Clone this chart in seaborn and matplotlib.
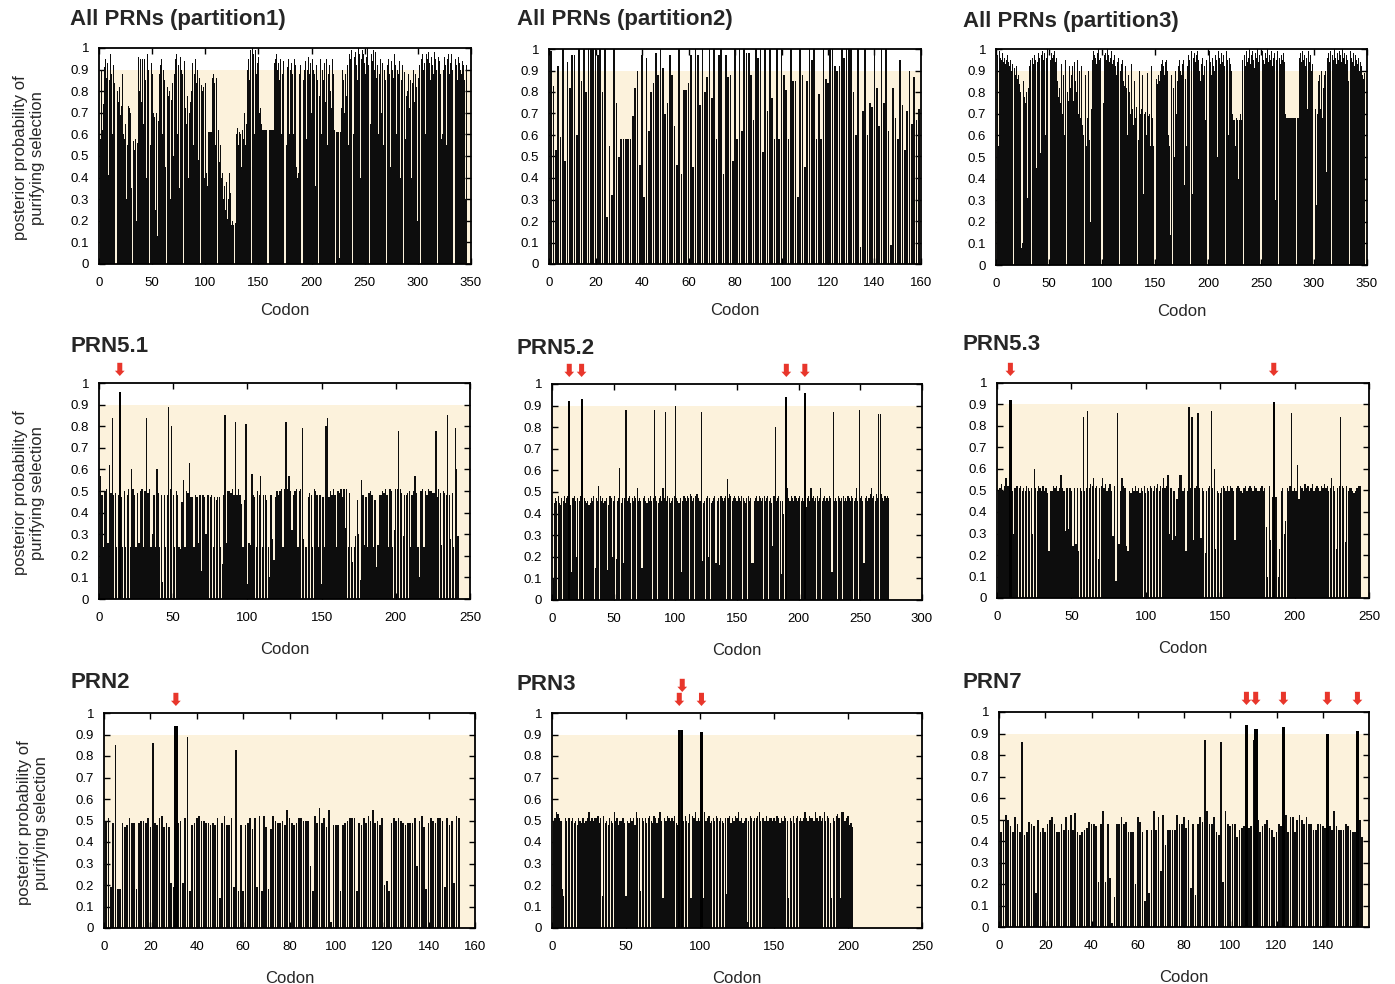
import numpy as np
import pandas as pd
import matplotlib
matplotlib.use("Agg")
import matplotlib.pyplot as plt
import seaborn as sns
from matplotlib.ticker import FuncFormatter, MultipleLocator

sns.set_theme(style="ticks")
plt.rcParams["font.family"] = ["Liberation Sans", "DejaVu Sans"]

# ---- posterior probabilities (percent) per codon, codons numbered from 1 ----
part1 = [58, 90, 62, 74, 91, 95, 86, 93, 41, 85,
         97, 88, 60, 92, 84, 35, 80, 75, 82, 69,
         73, 88, 60, 58, 65, 30, 55, 73, 72, 70,
         35, 57, 53, 58, 20, 56, 96, 80, 95, 75,
         95, 65, 95, 85, 40, 97, 90, 55, 93, 88,
         70, 68, 25, 70, 13, 66, 88, 92, 95, 60,
         90, 85, 45, 82, 78, 80, 30, 76, 84, 50,
         88, 95, 97, 60, 92, 35, 96, 90, 88, 94,
         72, 65, 78, 40, 70, 75, 80, 93, 55, 88,
         95, 84, 90, 48, 86, 83, 80, 82, 40, 84,
         42, 36, 61, 61, 61, 61, 86, 88, 84, 55,
         86, 62, 47, 55, 40, 42, 30, 36, 25, 38,
         21, 30, 42, 33, 18, 20, 18, 19, 60, 63,
         55, 61, 60, 45, 62, 58, 70, 55, 65, 90,
         95, 85, 99, 100, 97, 60, 99, 88, 93, 96,
         70, 72, 65, 62, 62, 62, 62, 62, 62, 62,
         62, 62, 62, 62, 93, 95, 97, 90, 93, 85,
         95, 60, 88, 94, 92, 55, 91, 95, 60, 90,
         93, 88, 60, 95, 92, 45, 40, 42, 88, 92,
         95, 85, 90, 94, 58, 90, 96, 88, 93, 70,
         95, 90, 88, 36, 92, 85, 78, 95, 60, 90,
         85, 93, 75, 95, 55, 88, 92, 80, 72, 95,
         88, 62, 61, 61, 61, 3, 61, 72, 90, 85,
         70, 88, 78, 92, 55, 97, 95, 99, 60, 96,
         98, 92, 85, 100, 97, 40, 95, 99, 97, 93,
         88, 96, 100, 92, 65, 97, 94, 99, 90, 98,
         86, 92, 60, 88, 95, 70, 93, 55, 90, 85,
         92, 95, 88, 45, 94, 90, 86, 97, 92, 60,
         90, 88, 94, 40, 85, 92, 89, 58, 78, 80,
         88, 72, 85, 40, 84, 90, 75, 88, 82, 20,
         86, 92, 95, 97, 90, 93, 60, 97, 95, 98,
         93, 85, 96, 92, 88, 98, 95, 90, 96, 94,
         88, 58, 60, 90, 96, 92, 55, 95, 97, 88,
         93, 97, 90, 75, 95, 92, 85, 96, 93, 90,
         88, 94, 92, 85, 30, 92]

part2 = [99, 83, 53, 92, 59, 100, 48, 94, 82, 97,
         97, 60, 100, 85, 100, 80, 100, 100, 100, 100,
         97, 100, 80, 100, 22, 55, 32, 100, 75, 50,
         58, 58, 58, 58, 58, 69, 82, 90, 46, 97,
         31, 96, 62, 80, 84, 98, 88, 100, 91, 70,
         75, 97, 88, 64, 46, 100, 42, 81, 81, 84,
         97, 45, 100, 97, 74, 100, 80, 87, 100, 77,
         100, 58, 97, 100, 42, 97, 87, 88, 48, 100,
         58, 100, 62, 100, 98, 98, 88, 67, 100, 96,
         100, 52, 100, 71, 100, 77, 58, 100, 58, 100,
         88, 81, 58, 100, 85, 85, 31, 100, 88, 45,
         85, 100, 95, 100, 58, 79, 58, 100, 86, 84,
         100, 100, 92, 90, 92, 100, 96, 100, 100, 100,
         80, 60, 100, 8, 71, 100, 60, 75, 73, 100,
         82, 64, 100, 75, 100, 62, 9, 82, 68, 58,
         95, 74, 53, 71, 90, 65, 87, 67, 72]

part3 = [97, 55, 99, 96, 95, 98, 94, 96, 93, 95,
         97, 94, 92, 95, 90, 93, 91, 88, 92, 86,
         88, 84, 80, 8, 10, 85, 78, 75, 80, 31,
         82, 92, 95, 96, 93, 97, 95, 45, 94, 98,
         96, 52, 97, 99, 95, 98, 60, 96, 100, 97,
         95, 98, 96, 97, 99, 94, 96, 85, 78, 82,
         75, 93, 70, 88, 60, 95, 80, 76, 92, 82,
         88, 92, 76, 94, 85, 80, 95, 70, 90, 68,
         92, 65, 60, 88, 55, 68, 90, 58, 20, 72,
         95, 99, 97, 96, 93, 98, 100, 95, 96, 92,
         75, 97, 98, 95, 100, 97, 94, 96, 99, 93,
         95, 97, 92, 88, 94, 96, 90, 93, 95, 85,
         83, 92, 82, 60, 88, 80, 70, 93, 72, 65,
         85, 68, 73, 58, 90, 70, 72, 88, 33, 70,
         71, 60, 89, 69, 70, 55, 92, 68, 55, 85,
         86, 84, 88, 85, 90, 93, 95, 92, 88, 94,
         95, 90, 60, 55, 14, 88, 82, 50, 90, 70,
         85, 92, 95, 90, 88, 93, 95, 37, 86, 55,
         92, 97, 95, 99, 33, 96, 98, 94, 97, 99,
         95, 90, 85, 93, 96, 88, 92, 67, 95, 97,
         99, 94, 88, 96, 92, 90, 97, 95, 50, 99,
         96, 93, 98, 94, 97, 92, 99, 95, 60, 96,
         93, 90, 70, 67, 67, 55, 68, 67, 40, 67,
         70, 67, 95, 97, 92, 99, 94, 96, 100, 93,
         97, 99, 95, 91, 98, 96, 100, 94, 97, 92,
         99, 95, 93, 98, 96, 100, 94, 97, 95, 99,
         92, 96, 98, 30, 95, 99, 96, 93, 97, 95,
         98, 94, 70, 68, 68, 68, 68, 68, 68, 68,
         68, 68, 68, 68, 68, 96, 98, 94, 99, 95,
         97, 92, 96, 72, 99, 94, 97, 90, 93, 96,
         72, 28, 70, 85, 88, 72, 90, 68, 82, 88,
         90, 43, 96, 98, 94, 99, 97, 95, 100, 96,
         93, 98, 95, 99, 97, 94, 100, 96, 98, 93,
         97, 95, 85, 99, 96, 94, 98, 92, 97, 95,
         93, 96, 90, 94, 92, 88, 86, 89]

prn5_1 = [57, 48, 24, 50, 51, 26, 62, 49, 84, 48,
          49, 24, 48, 96, 47, 24, 50, 24, 48, 51,
          24, 60, 51, 48, 24, 49, 26, 50, 51, 24,
          50, 84, 49, 51, 24, 30, 48, 24, 60, 49,
          24, 48, 8, 48, 24, 48, 89, 51, 80, 48,
          24, 50, 48, 24, 23, 45, 55, 24, 50, 49,
          63, 47, 47, 24, 48, 47, 26, 48, 13, 48,
          47, 30, 48, 48, 47, 48, 24, 47, 46, 47,
          47, 24, 16, 48, 85, 26, 50, 50, 49, 51,
          48, 82, 48, 51, 48, 44, 24, 46, 81, 7,
          26, 25, 58, 48, 47, 24, 50, 48, 57, 24,
          48, 48, 46, 24, 10, 48, 28, 18, 47, 50,
          48, 50, 51, 24, 51, 82, 51, 57, 50, 32,
          48, 50, 51, 24, 50, 51, 79, 28, 24, 24,
          47, 49, 48, 24, 51, 50, 48, 24, 48, 7,
          47, 24, 80, 84, 47, 50, 48, 51, 48, 24,
          50, 49, 51, 47, 51, 33, 51, 24, 49, 24,
          17, 24, 29, 46, 30, 9, 55, 48, 25, 47,
          24, 49, 50, 48, 24, 46, 15, 25, 48, 48,
          50, 49, 51, 48, 24, 51, 50, 24, 32, 51,
          51, 78, 51, 49, 29, 48, 48, 49, 50, 24,
          48, 50, 57, 49, 24, 10, 50, 51, 24, 50,
          48, 51, 50, 50, 49, 49, 78, 47, 51, 49,
          25, 50, 49, 48, 85, 48, 28, 49, 24, 79,
          60, 29]

prn5_2 = [10, 45, 47, 46, 48, 45, 44, 47, 46, 48,
          45, 47, 48, 92, 44, 13, 47, 48, 46, 20,
          47, 46, 48, 93, 25, 47, 46, 45, 46, 44,
          45, 47, 46, 48, 15, 47, 46, 53, 48, 46,
          47, 45, 46, 47, 14, 44, 48, 47, 20, 46,
          48, 19, 46, 47, 61, 45, 47, 17, 47, 88,
          46, 47, 48, 45, 47, 46, 48, 47, 52, 46,
          47, 46, 15, 47, 48, 46, 45, 47, 46, 48,
          46, 47, 88, 48, 46, 45, 47, 48, 46, 52,
          47, 87, 46, 48, 47, 45, 46, 47, 48, 90,
          47, 46, 45, 47, 13, 46, 48, 47, 46, 48,
          47, 49, 48, 46, 47, 48, 49, 49, 47, 46,
          87, 18, 45, 46, 47, 48, 20, 47, 45, 46,
          47, 48, 17, 46, 47, 16, 48, 47, 46, 47,
          48, 56, 47, 49, 48, 46, 47, 48, 47, 46,
          48, 47, 46, 48, 47, 46, 45, 47, 48, 46,
          47, 17, 17, 46, 47, 48, 46, 48, 47, 46,
          47, 48, 46, 47, 48, 46, 47, 45, 25, 48,
          80, 46, 47, 48, 46, 12, 46, 40, 52, 94,
          52, 47, 46, 48, 47, 46, 48, 47, 46, 47,
          48, 46, 47, 46, 96, 43, 47, 48, 46, 52,
          47, 48, 46, 47, 48, 46, 47, 52, 46, 47,
          48, 46, 47, 46, 48, 47, 13, 87, 46, 47,
          46, 48, 47, 46, 47, 48, 46, 47, 46, 48,
          47, 46, 48, 47, 46, 47, 52, 46, 88, 47,
          48, 46, 17, 47, 48, 46, 47, 49, 52, 47,
          48, 46, 49, 47, 86, 86, 49, 47, 46, 48,
          47, 48, 47]

prn5_3 = [50, 51, 53, 50, 52, 56, 52, 52, 92, 50,
          30, 51, 52, 52, 51, 52, 50, 51, 50, 52,
          51, 50, 51, 30, 60, 51, 50, 52, 51, 50,
          52, 50, 51, 49, 22, 50, 50, 52, 51, 52,
          50, 51, 57, 51, 50, 31, 51, 32, 51, 50,
          24, 51, 25, 51, 22, 51, 50, 84, 50, 51,
          87, 51, 53, 52, 56, 51, 52, 18, 51, 52,
          56, 51, 53, 50, 51, 53, 50, 29, 52, 8,
          86, 25, 50, 56, 52, 51, 24, 22, 50, 49,
          51, 50, 52, 50, 51, 49, 51, 50, 52, 49,
          51, 50, 52, 51, 50, 52, 51, 53, 50, 52,
          51, 56, 51, 52, 57, 30, 51, 27, 50, 29,
          46, 51, 57, 57, 50, 51, 22, 50, 89, 51,
          84, 27, 51, 52, 86, 51, 28, 51, 50, 21,
          50, 51, 52, 87, 51, 60, 23, 50, 49, 49,
          51, 52, 51, 50, 52, 50, 52, 51, 50, 27,
          51, 52, 51, 50, 49, 51, 52, 50, 51, 52,
          51, 50, 52, 51, 50, 50, 51, 52, 50, 51,
          33, 10, 52, 27, 47, 91, 47, 47, 10, 23,
          50, 51, 30, 36, 51, 50, 52, 86, 50, 51,
          50, 62, 46, 52, 51, 50, 53, 51, 52, 50,
          51, 53, 50, 51, 52, 51, 50, 52, 51, 53,
          51, 52, 50, 51, 56, 52, 50, 23, 51, 52,
          84, 52, 51, 26, 52, 50, 51, 51, 50, 49,
          50, 51, 52, 52]

prn2 = [50, 51, 19, 49, 85, 18, 18, 49, 47, 48,
        51, 49, 49, 18, 49, 50, 50, 49, 51, 47,
        86, 49, 48, 51, 52, 47, 49, 47, 21, 19,
        94, 49, 50, 21, 51, 89, 17, 48, 49, 51,
        52, 50, 50, 49, 49, 48, 49, 48, 51, 14,
        49, 52, 48, 48, 51, 19, 83, 17, 48, 17,
        48, 49, 51, 46, 51, 19, 52, 17, 52, 47,
        18, 46, 52, 50, 49, 49, 50, 48, 55, 51,
        49, 48, 49, 51, 51, 50, 50, 50, 29, 17,
        52, 49, 56, 49, 51, 47, 55, 3, 48, 48,
        48, 17, 48, 49, 50, 51, 51, 51, 17, 49,
        48, 51, 49, 52, 50, 55, 49, 50, 48, 51,
        20, 22, 17, 49, 51, 50, 51, 50, 49, 48,
        49, 49, 49, 51, 29, 50, 52, 47, 18, 49,
        51, 50, 49, 51, 51, 50, 19, 51, 48, 50,
        21, 52, 51]

prn3 = [50, 51, 54, 53, 51, 50, 18, 15, 51, 50,
        51, 51, 50, 51, 49, 50, 48, 51, 50, 49,
        51, 49, 50, 51, 54, 50, 51, 50, 51, 51,
        52, 49, 51, 15, 52, 49, 50, 48, 51, 50,
        49, 54, 50, 51, 48, 50, 50, 51, 49, 15,
        50, 49, 51, 50, 51, 48, 54, 51, 51, 17,
        51, 50, 51, 49, 51, 52, 50, 49, 52, 51,
        49, 51, 54, 50, 14, 51, 50, 52, 51, 50,
        51, 50, 52, 49, 48, 92, 92, 92, 50, 52,
        50, 49, 53, 14, 52, 51, 54, 50, 51, 50,
        91, 14, 54, 50, 51, 52, 49, 50, 51, 50,
        52, 51, 50, 51, 50, 49, 51, 16, 51, 52,
        49, 51, 50, 52, 51, 54, 50, 51, 49, 50,
        51, 3, 50, 52, 51, 50, 51, 51, 52, 54,
        50, 51, 51, 50, 52, 50, 51, 51, 50, 51,
        50, 52, 51, 49, 51, 50, 52, 51, 50, 14,
        51, 50, 52, 49, 51, 52, 50, 51, 50, 51,
        54, 51, 50, 52, 51, 51, 50, 54, 51, 50,
        52, 50, 51, 54, 50, 52, 51, 49, 14, 51,
        50, 52, 53, 51, 14, 54, 54, 50, 51, 52,
        48, 49, 47]

prn7 = [44, 50, 52, 50, 47, 44, 51, 48, 44, 86,
        43, 44, 49, 48, 47, 16, 50, 44, 46, 44,
        48, 50, 51, 48, 44, 44, 48, 45, 51, 45,
        52, 45, 53, 44, 43, 44, 45, 46, 49, 48,
        48, 47, 21, 48, 54, 21, 48, 23, 2, 14,
        48, 48, 51, 48, 49, 44, 44, 44, 20, 51,
        49, 44, 12, 45, 16, 45, 54, 45, 51, 26,
        52, 38, 45, 45, 45, 45, 52, 48, 48, 51,
        46, 50, 18, 48, 15, 48, 51, 49, 87, 54,
        48, 48, 51, 44, 43, 86, 21, 54, 48, 47,
        48, 48, 42, 45, 46, 47, 94, 46, 47, 87,
        92, 50, 44, 47, 48, 50, 46, 45, 42, 44,
        48, 47, 93, 52, 44, 51, 51, 44, 50, 52,
        50, 48, 51, 48, 48, 45, 45, 48, 48, 47,
        46, 90, 47, 45, 54, 47, 45, 45, 45, 48,
        47, 45, 44, 44, 91, 50, 42]

# codons flagged as significant (red markers)
hl_prn5_1 = [14]
hl_prn5_2 = [14, 24, 190, 205]
hl_prn5_3 = [9, 186]
hl_prn2 = [31]
hl_prn3 = [86, 88, 101]
hl_prn7 = [107, 111, 123, 142, 155]

titles = ["All PRNs (partition1)", "All PRNs (partition2)", "All PRNs (partition3)",
          "PRN5.1", "PRN5.2", "PRN5.3", "PRN2", "PRN3", "PRN7"]
series = [part1, part2, part3, prn5_1, prn5_2, prn5_3, prn2, prn3, prn7]
highlights = [[], [], [], hl_prn5_1, hl_prn5_2, hl_prn5_3, hl_prn2, hl_prn3, hl_prn7]
x_max = [350, 160, 350, 250, 300, 250, 160, 250, 160]
x_ticks = [range(0, 351, 50), range(0, 161, 20), range(0, 351, 50),
           range(0, 251, 50), range(0, 301, 50), range(0, 251, 50),
           range(0, 161, 20), range(0, 251, 50), range(0, 141, 20)]

# ---- layout (pixel boxes: left, top, right, bottom) ----
W, H = 1395, 984
boxes = [(99, 48, 471, 264), (549, 49, 921, 264), (996, 49, 1367, 265),
         (99, 383, 470, 599), (552, 384, 922, 600), (997, 383, 1369, 598),
         (104, 713, 475, 928), (552, 713, 922, 928), (999, 712, 1369, 927)]
title_pos = [(70, 20), (517, 20), (963, 22),
             (70, 347), (517, 348), (963, 344),
             (70, 682), (517, 684), (963, 683)]
bar_width = [0.92, 0.72, 0.92, 0.88, 0.88, 0.88, 0.72, 0.88, 0.72]
xlabel_pad = [10, 10, 10, 13, 13, 13, 13, 13, 13]

CREAM = "#fcf2dc"
RED = "#e8362b"
BAR = "#0d0d0d"

fig = plt.figure(figsize=(W / 100, H / 100), dpi=100)
fmt = FuncFormatter(lambda v, p: "0" if abs(v) < 1e-9 else ("1" if abs(v - 1) < 1e-9 else f"{v:.1f}"))

for i in range(9):
    l, t, r, b = boxes[i]
    ax = fig.add_axes([l / W, 1 - b / H, (r - l) / W, (b - t) / H])
    vals = np.array(series[i], dtype=float) / 100.0
    df = pd.DataFrame({"codon": np.arange(1, len(vals) + 1), "prob": vals})

    ax.axhspan(0, 0.9, color=CREAM, lw=0, zorder=0)
    sns.barplot(data=df, x="codon", y="prob", native_scale=True, orient="x",
                color=BAR, saturation=1, width=bar_width[i], errorbar=None,
                linewidth=0, ax=ax, zorder=2)

    hl = highlights[i]
    if hl:
        hv = df.set_index("codon").loc[hl, "prob"].values
        ax.bar(hl, hv, width=1.6, color="black", linewidth=0, zorder=3)
        prev = None
        level = 0
        px_per = (r - l) / x_max[i]
        for c in hl:
            if prev is not None and (c - prev) * px_per < 7 and level == 0:
                level = 1
            else:
                level = 0
            tip = 1 + (7 + 14 * level) / (b - t)
            ax.annotate("", xy=(c, tip), xycoords=ax.get_xaxis_transform(),
                        xytext=(0, 9.5), textcoords="offset points",
                        annotation_clip=False,
                        arrowprops=dict(facecolor=RED, edgecolor="none",
                                        width=3.6, headwidth=7.0, headlength=3.8,
                                        shrink=0))
            prev = c

    ax.set_xlim(0, x_max[i])
    ax.set_ylim(0, 1)
    ax.set_xticks(list(x_ticks[i]))
    ax.yaxis.set_major_locator(MultipleLocator(0.1))
    ax.yaxis.set_major_formatter(fmt)
    ax.tick_params(direction="in", top=True, right=True, length=4, width=1,
                   labelsize=9.5, pad=7, colors="black")
    ax.tick_params(axis="x", pad=9.5)
    for s in ax.spines.values():
        s.set_linewidth(1.3)
        s.set_color("black")
    ax.set_xlabel("Codon", fontsize=12, labelpad=xlabel_pad[i])
    ax.set_ylabel("")
    ax.set_facecolor("white")

    tx, ty = title_pos[i]
    fig.text(tx / W, 1 - ty / H, titles[i], fontsize=16, fontweight="bold",
             ha="left", va="center")

ylab = "posterior probability of\npurifying selection"
for (x, y) in [(29, 158), (29, 493), (33, 823)]:
    fig.text(x / W, 1 - y / H, ylab, rotation=90, ha="center", va="center",
             multialignment="center", fontsize=12, linespacing=1.15)

fig.savefig("out.png", dpi=100)
